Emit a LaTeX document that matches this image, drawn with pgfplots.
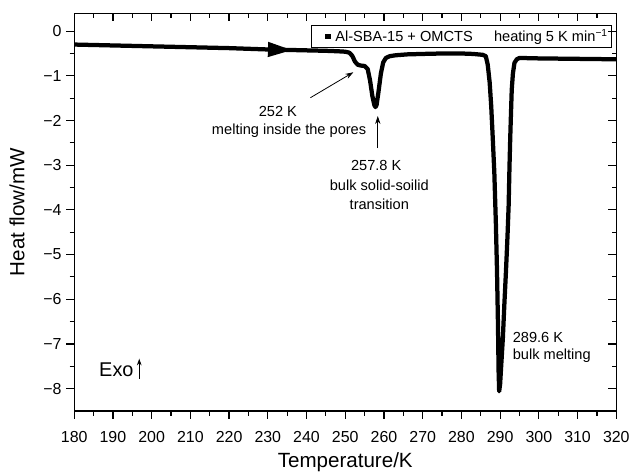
\documentclass[border=0pt]{standalone}
\usepackage{fontspec}
\setmainfont{Liberation Sans}
\usepackage{pgfplots}
\pgfplotsset{compat=1.18}
\usetikzlibrary{arrows.meta}

\begin{document}
\begin{tikzpicture}
\pgfplotsset{
  common/.style={
    scale only axis, width=408.4pt, height=299.6pt,
    xmin=180, xmax=320, ymin=-8.5, ymax=0.4,
    xtick={180,190,...,320}, minor x tick num=1,
    ytick={-8,-7,...,0}, minor y tick num=1,
    axis line style={line width=0.9pt},
    every tick/.style={black, line width=0.9pt},
    major tick length=6pt, minor tick length=3.5pt,
  }
}
\begin{axis}[common, tick align=outside, xtick pos=left, ytick pos=left,
  yticklabels={−8,−7,−6,−5,−4,−3,−2,−1,0},
  ticklabel style={font=\fontsize{12}{14}\selectfont},
  xticklabel style={yshift=-6pt},
  /pgf/number format/assume math mode=true,
  xlabel={Temperature/K}, ylabel={Heat flow/mW},
  label style={font=\fontsize{15.5}{18}\selectfont, inner sep=0pt},
  xlabel style={at={(axis description cs:0.5,-0.13)}, anchor=center},
  ylabel style={at={(axis description cs:-0.1054,0.5)}, anchor=center},
  legend style={at={(axis description cs:0.9927,0.971)}, anchor=north east,
    draw=black, line width=0.8pt, font=\fontsize{11}{13}\selectfont,
    inner sep=1pt},
  legend cell align=left,
]
\addlegendimage{legend image code/.code={\path[draw=none] (0pt,0pt) -- (15pt,0pt); \fill[black] (10pt,-1.6pt) rectangle (13.2pt,1.6pt);}}
\addlegendentry{Al-SBA-15 + OMCTS\hspace{16pt}heating 5 K min\textsuperscript{−1}}

\addplot[black, line width=3.2pt, line join=round, forget plot] coordinates {
(180,-0.30) (190,-0.32) (200,-0.34) (210,-0.36) (220,-0.38) (230,-0.41)
(240,-0.43) (245,-0.44) (248,-0.45) (250,-0.46) (251,-0.48) (251.8,-0.55)
(252.5,-0.68) (253.2,-0.75) (254,-0.77) (255,-0.78) (255.8,-0.85)
(256.4,-1.10) (257,-1.45) (257.5,-1.65) (257.8,-1.70) (258.1,-1.65)
(258.6,-1.35) (259.2,-0.95) (259.8,-0.70) (260.5,-0.60) (261.5,-0.56)
(263,-0.54) (266,-0.52) (270,-0.51) (275,-0.50) (280,-0.50) (283,-0.51)
(285.5,-0.53) (286.3,-0.56) (286.8,-0.75) (287.3,-1.15) (287.7,-1.68)
(288.1,-2.40) (288.5,-3.16) (288.9,-4.30) (289.2,-5.39) (289.45,-6.60)
(289.6,-7.60) (289.75,-8.06) (290.0,-7.90) (290.2,-7.60) (290.7,-6.88)
(291.1,-6.10) (291.5,-5.39) (291.9,-4.60) (292.2,-3.90) (292.4,-3.10)
(292.6,-2.42) (292.8,-1.85) (293.0,-1.31) (293.3,-0.95) (293.7,-0.71)
(294.3,-0.63) (295,-0.60) (300,-0.61) (310,-0.62) (320,-0.63)
};
\addplot[black, line width=2pt, -{Triangle[length=18pt 0, width=11pt 0]}, forget plot]
  coordinates {(226,-0.40) (236.2,-0.425)};

\node[font=\fontsize{11}{13}\selectfont] at (axis cs:232.6,-1.80) {252 K};
\node[font=\fontsize{11}{13}\selectfont] at (axis cs:235.5,-2.22) {melting inside the pores};
\draw[line width=0.6pt, -{Stealth[length=6pt, width=4pt]}] (axis cs:241.0,-1.49) -- (axis cs:252.1,-0.92);
\draw[line width=0.6pt, -{Stealth[length=6pt, width=4pt]}] (axis cs:258.4,-2.62) -- (axis cs:258.4,-1.90);
\node[font=\fontsize{11}{13}\selectfont] at (axis cs:258.0,-3.00) {257.8 K};
\node[font=\fontsize{11}{13}\selectfont] at (axis cs:258.8,-3.45) {bulk solid-soilid};
\node[font=\fontsize{11}{13}\selectfont] at (axis cs:258.8,-3.88) {transition};
\node[font=\fontsize{11}{13}\selectfont, anchor=west, inner sep=0pt] at (axis cs:293.2,-6.86) {289.6 K};
\node[font=\fontsize{11}{13}\selectfont, anchor=west, inner sep=0pt] at (axis cs:293.2,-7.27) {bulk melting};
\node[font=\fontsize{15}{18}\selectfont, anchor=base west, inner sep=0pt] at (axis cs:186.4,-7.72) {Exo};
\draw[line width=0.8pt, -{Stealth[length=5pt, width=3.5pt]}] (axis cs:196.8,-7.78) -- (axis cs:196.8,-7.33);
\end{axis}
\begin{axis}[common, tick align=inside, xtick pos=right, ytick pos=right,
  xticklabels={}, yticklabels={}]
\end{axis}
\path ([xshift=-55.9pt,yshift=-49pt]current axis.south west) rectangle ([xshift=11.25pt,yshift=10pt]current axis.north east);
\end{tikzpicture}
\end{document}
